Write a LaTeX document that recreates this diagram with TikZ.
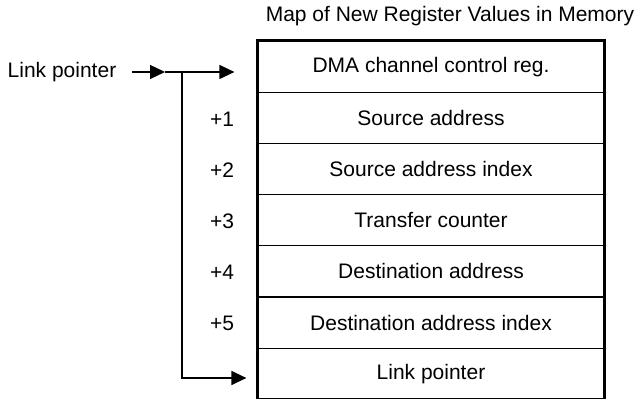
\documentclass[tikz,border=0pt]{standalone}
\usepackage{fontspec}
\setmainfont{Liberation Sans}
\usetikzlibrary{positioning,arrows.meta}

\begin{document}
\begin{tikzpicture}[
      x=0.5pt, y=-0.5pt,
      font=\fontsize{10.5}{12.6}\selectfont,
      regrow/.style={draw, line width=0.6pt, minimum width=173pt, minimum height=25.6pt, inner sep=0pt},
      offs/.style={inner sep=0pt},
      arr/.style={-{Triangle[length=7.5pt,width=7pt]}, line width=0.6pt}
  ]
    \useasboundingbox (0,0) rectangle (640,399);
    \node (title) at (450,16) {Map of New Register Values in Memory};
    \node[regrow] (r0) at (431,66.6) {DMA channel control reg.};
    \node[regrow] (r1) at (431,117.8) {Source address};
    \node[regrow] (r2) at (431,169.0) {Source address index};
    \node[regrow] (r3) at (431,220.2) {Transfer counter};
    \node[regrow] (r4) at (431,271.4) {Destination address};
    \node[regrow] (r5) at (431,322.6) {Destination address index};
    \node[regrow] (r6) at (431,373.8) {Link pointer};
    \draw[line width=1.6pt] (r0.north west) rectangle (r6.south east);
    \node[offs] (o1) at (222,119) {+1};
    \node[offs] (o2) at (222,170) {+2};
    \node[offs] (o3) at (222,221) {+3};
    \node[offs] (o4) at (222,272) {+4};
    \node[offs] (o5) at (222,323) {+5};
    \node (lp) at (62,72) {Link pointer};
    \coordinate (tip) at (165,72);
    \coordinate (jn) at (182,72);
    \coordinate (bend) at (182,378);
    \draw[arr, shorten <=4.5pt] (lp.east) -- (tip);
    \draw[arr, shorten >=11.5pt] (tip) -- (r0.west |- tip);
    \draw[arr, shorten >=5.5pt] (jn) -- (bend) -- (r6.west |- bend);
  \end{tikzpicture}
\end{document}
